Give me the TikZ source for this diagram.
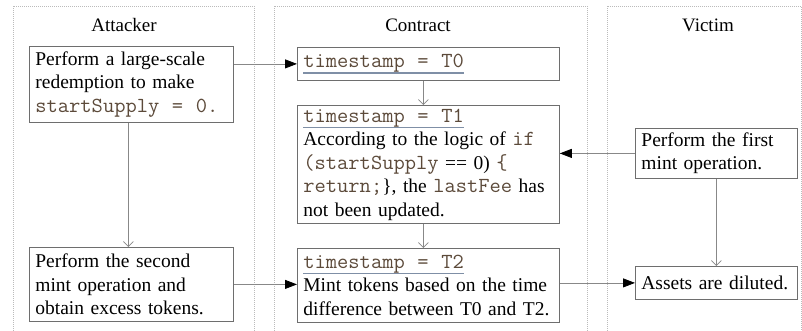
\documentclass[tikz,border=0pt]{standalone}
\usepackage{fontspec}
\setmainfont{Liberation Serif}
\setmonofont{Latin Modern Mono}[Scale=1.1,FakeStretch=1.02]
\usetikzlibrary{arrows.meta}
\definecolor{codecol}{HTML}{5C4A3A}
\definecolor{ulcol}{HTML}{7F8FA6}
\definecolor{boxcol}{HTML}{6E6E6E}
\definecolor{linecol}{HTML}{888888}
\definecolor{lanecol}{HTML}{BBBBBB}
\newcommand\code[1]{\textcolor{codecol}{\texttt{#1}}}
\newcommand\msp{\hspace{0.59em}}
\newsavebox\stampbox
\newcommand\stamp[1]{\sbox\stampbox{\code{#1}}\rlap{\textcolor{ulcol}{\rule[-6pt]{\wd\stampbox}{1.4pt}}}\usebox\stampbox}
\tikzset{
  box/.style={draw=boxcol, line width=0.8pt, rectangle, inner xsep=6pt, inner ysep=0pt,
    align=left, anchor=north west, font=\fontsize{19.5}{23.5}\selectfont},
  lane/.style={draw=lanecol, line width=0.7pt, dash pattern=on 1pt off 1pt},
  title/.style={font=\fontsize{19}{23}\selectfont, inner sep=0pt},
  flow/.style={draw=linecol, line width=0.8pt, -{Triangle[length=12pt,width=9pt,color=black]}},
  seq/.style={draw=linecol, line width=0.7pt, -{Straight Barb[length=5pt,width=10pt]}},
}
\begin{document}
\begin{tikzpicture}[x=1pt,y=-1pt]
\useasboundingbox (0,0) rectangle (802,330);
\clip (0,0) rectangle (802,330);
% lanes
\draw[lane] (13,6) rectangle (254,345);
\draw[lane] (274,6) rectangle (587,345);
\draw[lane] (607,6) rectangle (801,345);
\node[title] (tA) at (124,25) {Attacker};
\node[title] (tC) at (418,25) {Contract};
\node[title] (tV) at (708,25) {Victim};
% boxes
\node[box, text width=192pt, minimum height=76pt] (A1) at (29,46)
  {Perform a large-scale\\redemption to make\\\code{startSupply\msp=\msp0.}};
\node[box, text width=192pt, minimum height=74pt] (A2) at (29,247)
  {Perform the second\\mint operation and\\obtain excess tokens.};
\node[box, text width=250pt, minimum height=33pt] (C1) at (297,47)
  {\stamp{timestamp\msp=\msp T0}};
\node[box, text width=250pt, minimum height=118pt] (C2) at (297,105)
  {\stamp{timestamp\msp=\msp T1}\\According to the logic of \code{if}\\\code{(startSupply} == 0) \code{\{}\\\code{return;}\}, the \code{lastFee} has\\not been updated.};
\node[box, text width=250pt, minimum height=74pt] (C3) at (297,248)
  {\stamp{timestamp\msp=\msp T2}\\Mint tokens based on the time\\difference between T0 and T2.};
\node[box, text width=150pt, minimum height=50pt] (V1) at (635,128)
  {Perform the first\\mint operation.};
\node[box, text width=150pt, minimum height=33pt] (V2) at (635,266)
  {Assets are diluted.};
% connectors
\draw[flow] (A1.east |- C1.west) -- (C1.west);
\draw[seq] ([xshift=-5pt]C1.south) -- ([xshift=-5pt]C2.north);
\draw[seq] ([xshift=-3pt]A1.south) -- ([xshift=-3pt]A2.north);
\draw[seq] ([xshift=-5pt]C2.south) -- ([xshift=-5pt]C3.north);
\draw[flow] (V1.west) -- (C2.east |- V1.west);
\draw[flow] (A2.east) -- (A2.east -| C3.west);
\draw[flow] (C3.east |- V2.west) -- (V2.west);
\draw[seq] (V1.south) -- (V2.north);
\end{tikzpicture}
\end{document}
